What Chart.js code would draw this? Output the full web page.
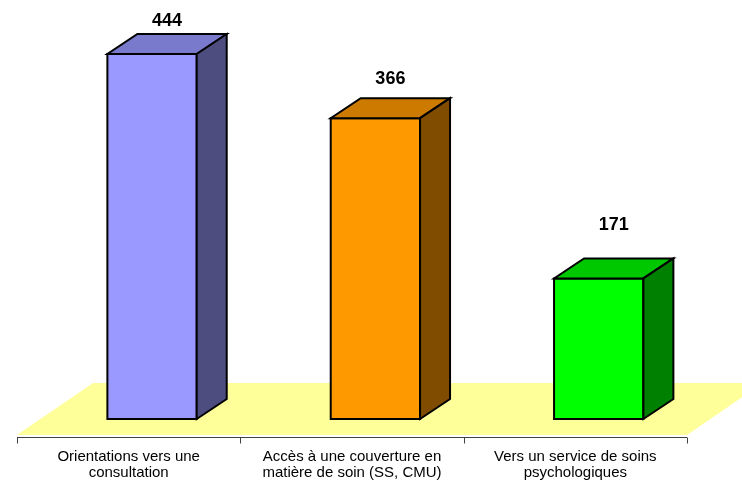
<!DOCTYPE html>
<html>
<head>
<meta charset="utf-8">
<script src="https://cdn.jsdelivr.net/npm/chart.js@4/dist/chart.umd.min.js"></script>
<style>
  html, body { margin: 0; padding: 0; background: #ffffff; }
  #wrap { width: 742px; height: 480px; }
</style>
</head>
<body>
<div id="wrap"><canvas id="c" width="742" height="480"></canvas></div>
<script>
// ---- data ----
const categories = [
  ["Orientations vers une", "consultation"],
  ["Accès à une couverture en", "matière de soin (SS, CMU)"],
  ["Vers un service de soins", "psychologiques"]
];
const values = [444, 366, 171];
const frontColors = ["#9999FF", "#FF9900", "#00FF00"];
const topColors   = ["#7A7ACC", "#CC7A00", "#00C800"];
const sideColors  = ["#4D4D80", "#804D00", "#008000"];

// ---- 3D geometry (pixels) ----
const FLOOR_FRONT = 16;   // floor front edge below bar base
const FLOOR_DY = 52;      // floor depth (vertical)
const FLOOR_DX = 76;      // floor depth (horizontal)
const BAR_SHIFT = FLOOR_FRONT * FLOOR_DX / FLOOR_DY; // bar front plane shift
const BAR_DY = 20;
const BAR_DX = 30;

const threeD = {
  id: 'threeD',
  beforeDatasetsDraw(chart) {
    const ctx = chart.ctx;
    const a = chart.chartArea;
    const base = chart.scales.y.getPixelForValue(0);
    const fy = base + FLOOR_FRONT;
    ctx.save();
    // floor
    ctx.fillStyle = '#FFFF99';
    ctx.beginPath();
    ctx.moveTo(a.left, fy);
    ctx.lineTo(a.right, fy);
    ctx.lineTo(a.right + FLOOR_DX, fy - FLOOR_DY);
    ctx.lineTo(a.left + FLOOR_DX, fy - FLOOR_DY);
    ctx.closePath();
    ctx.fill();
    // axis line + ticks at category boundaries
    const ay = Math.round(fy + 2) + 0.5;
    ctx.strokeStyle = '#404040';
    ctx.lineWidth = 1;
    ctx.beginPath();
    ctx.moveTo(a.left, ay);
    ctx.lineTo(a.right, ay);
    const n = categories.length;
    for (let i = 0; i <= n; i++) {
      const x = Math.round(a.left + (a.right - a.left) * i / n) + 0.5;
      ctx.moveTo(x, ay);
      ctx.lineTo(x, ay + 6);
    }
    ctx.stroke();
    ctx.restore();
  },
  afterDatasetsDraw(chart) {
    const ctx = chart.ctx;
    const meta = chart.getDatasetMeta(0);
    const base = chart.scales.y.getPixelForValue(0);
    ctx.save();
    ctx.lineJoin = 'miter';
    ctx.lineWidth = 2;
    ctx.strokeStyle = '#000';
    meta.data.forEach((bar, i) => {
      const w = bar.width;
      const x0 = bar.x + BAR_SHIFT - w / 2;
      const x1 = x0 + w;
      const top = bar.y;
      // front
      ctx.fillStyle = frontColors[i];
      ctx.beginPath();
      ctx.rect(x0, top, w, base - top);
      ctx.fill(); ctx.stroke();
      // top
      ctx.fillStyle = topColors[i];
      ctx.beginPath();
      ctx.moveTo(x0, top);
      ctx.lineTo(x1, top);
      ctx.lineTo(x1 + BAR_DX, top - BAR_DY);
      ctx.lineTo(x0 + BAR_DX, top - BAR_DY);
      ctx.closePath();
      ctx.fill(); ctx.stroke();
      // side
      ctx.fillStyle = sideColors[i];
      ctx.beginPath();
      ctx.moveTo(x1, top);
      ctx.lineTo(x1 + BAR_DX, top - BAR_DY);
      ctx.lineTo(x1 + BAR_DX, base - BAR_DY);
      ctx.lineTo(x1, base);
      ctx.closePath();
      ctx.fill(); ctx.stroke();
      // value label (perspective-compressed placement)
      const h = base - top;
      const ly = base - 65.5 - h * 0.912;
      ctx.fillStyle = '#000';
      ctx.font = 'bold 18px "Liberation Sans", Arial, sans-serif';
      ctx.textAlign = 'center';
      ctx.textBaseline = 'middle';
      ctx.fillText(String(values[i]), x0 + w / 2 + 15, ly);
    });
    ctx.restore();
  }
};

new Chart(document.getElementById('c'), {
  type: 'bar',
  data: {
    labels: categories,
    datasets: [{
      data: values,
      backgroundColor: 'rgba(0,0,0,0)',
      borderWidth: 0,
      barPercentage: 1,
      categoryPercentage: 0.4
    }]
  },
  options: {
    responsive: false,
    devicePixelRatio: 1,
    animation: false,
    events: [],
    layout: { padding: { left: 17, right: 55, top: 8, bottom: 0 } },
    plugins: { legend: { display: false }, tooltip: { enabled: false } },
    scales: {
      y: { display: false, min: 0, max: 500 },
      x: {
        grid: { display: false, drawTicks: false },
        border: { display: false },
        ticks: {
          color: '#000',
          font: { family: '"Liberation Sans", Arial, sans-serif', size: 15, lineHeight: 1.1 },
          padding: 29.5,
          maxRotation: 0,
          autoSkip: false
        },
        afterFit(s) { s.height = 61; }
      }
    }
  },
  plugins: [threeD]
});
</script>
</body>
</html>
